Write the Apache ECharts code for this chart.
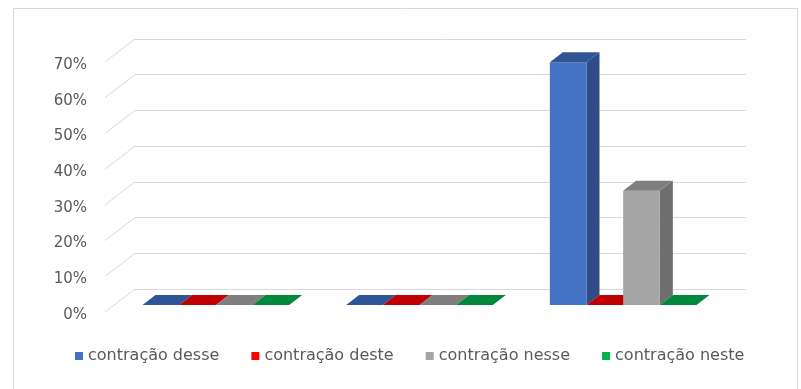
<!DOCTYPE html>
<html>
<head>
<meta charset="utf-8">
<script src="https://cdn.jsdelivr.net/npm/echarts@6/dist/echarts.min.js"></script>
<style>
  html, body { margin: 0; padding: 0; background: #ffffff; }
  #chart { width: 801px; height: 389px; }
</style>
</head>
<body>
<div id="chart"></div>
<script>
// Categories (unlabelled groups) and per-series shares
const categories = ['', ' ', '  '];
const seriesNames = ['contração desse', 'contração deste', 'contração nesse', 'contração neste'];
const desseValues = [0, 0, 0.68];
const desteValues = [0, 0, 0];
const nesseValues = [0, 0, 0.32];
const nesteValues = [0, 0, 0];
const tickValues = [0, 0.1, 0.2, 0.3, 0.4, 0.5, 0.6, 0.7];

const seriesValues = [desseValues, desteValues, nesseValues, nesteValues];

// Face colours per series: front, top, side
const palette = [
  { front: '#4472C4', top: '#2F5597', side: '#2E4D88' },
  { front: '#FF0000', top: '#C00000', side: '#A00000' },
  { front: '#A5A5A5', top: '#7F7F7F', side: '#6E6E6E' },
  { front: '#00B050', top: '#00883C', side: '#007A36' }
];

// Oblique projection offsets
const WALL_DX = 30, WALL_DY = -23;   // floor front -> back wall
const BAR_OX = 9, BAR_OY = -7;       // floor front -> bar front face
const BAR_DX = 13, BAR_DY = -10;     // bar depth
const GROUP_FRAC = 0.72;

const chart = echarts.init(document.getElementById('chart'), null, { renderer: 'canvas' });

function barRenderer(sIdx) {
  return function (params, api) {
    const cat = api.value(0);
    const val = api.value(1);
    const base = api.coord([cat, 0]);
    const top = api.coord([cat, val]);
    const band = api.size([1, 0])[0];
    const groupW = band * GROUP_FRAC;
    const barW = groupW / 4;
    const x0 = base[0] - groupW / 2 + sIdx * barW + BAR_OX;
    const yB = base[1] + BAR_OY;
    const yT = top[1] + BAR_OY;
    const c = palette[sIdx];
    const children = [];
    if (yB - yT > 0.5) {
      children.push({
        type: 'polygon',
        shape: { points: [[x0 + barW, yT], [x0 + barW + BAR_DX, yT + BAR_DY], [x0 + barW + BAR_DX, yB + BAR_DY], [x0 + barW, yB]] },
        style: { fill: c.side }
      });
      children.push({
        type: 'rect',
        shape: { x: x0, y: yT, width: barW, height: yB - yT },
        style: { fill: c.front }
      });
    }
    children.push({
      type: 'polygon',
      shape: { points: [[x0, yT], [x0 + BAR_DX, yT + BAR_DY], [x0 + barW + BAR_DX, yT + BAR_DY], [x0 + barW, yT]] },
      style: { fill: c.top }
    });
    return { type: 'group', children: children };
  };
}

const barSeries = seriesValues.map(function (vals, i) {
  return {
    name: seriesNames[i],
    type: 'custom',
    xAxisIndex: 0,
    yAxisIndex: 0,
    itemStyle: { color: palette[i].front },
    renderItem: barRenderer(i),
    data: vals.map(function (v, k) { return [k, v]; }),
    z: 10 + i
  };
});

// Diagonal side-wall lines joining front ticks to back-wall gridlines
const sideWall = {
  type: 'custom',
  xAxisIndex: 0,
  yAxisIndex: 0,
  silent: true,
  renderItem: function (params, api) {
    const p = api.coord([0, api.value(0)]);
    const x = params.coordSys.x;
    return {
      type: 'line',
      shape: { x1: x, y1: p[1], x2: x + WALL_DX, y2: p[1] + WALL_DY },
      style: { stroke: '#d9d9d9', lineWidth: 1 }
    };
  },
  data: tickValues.map(function (v) { return [v]; }),
  z: 1
};

const option = {
  backgroundColor: '#ffffff',
  animation: false,
  graphic: [{
    type: 'rect',
    shape: { x: 13.5, y: 8.5, width: 784, height: 400 },
    style: { fill: 'none', stroke: '#d9d9d9', lineWidth: 1 },
    silent: true
  }],
  legend: {
    data: seriesNames,
    bottom: 20,
    left: 70,
    icon: 'rect',
    itemWidth: 8,
    itemHeight: 8,
    itemGap: 32,
    textStyle: { color: '#595959', fontSize: 16, fontFamily: 'DejaVu Sans' }
  },
  grid: [
    { left: 105, right: 85, top: 62, bottom: 77 },
    { left: 135, right: 55, top: 39, bottom: 100 }
  ],
  xAxis: [
    { type: 'category', gridIndex: 0, data: categories, show: false },
    { type: 'category', gridIndex: 1, data: categories, show: false }
  ],
  yAxis: [
    {
      type: 'value', gridIndex: 0, min: 0, max: 0.7, interval: 0.1,
      axisLine: { show: false }, axisTick: { show: false },
      splitLine: { show: false },
      axisLabel: {
        margin: 18,
        color: '#595959',
        fontSize: 15,
        fontFamily: 'DejaVu Sans',
        formatter: function (v) { return '{p|' + Math.round(v * 100) + '%}'; },
        rich: { p: { padding: [6, 0, 0, 0], color: '#595959', fontSize: 15, fontFamily: 'DejaVu Sans' } }
      }
    },
    {
      type: 'value', gridIndex: 1, min: 0, max: 0.7, interval: 0.1,
      axisLine: { show: false }, axisTick: { show: false },
      axisLabel: { show: false },
      splitLine: { show: true, lineStyle: { color: '#d9d9d9', width: 1 } }
    }
  ],
  series: [sideWall].concat(barSeries)
};

chart.setOption(option);
</script>
</body>
</html>
